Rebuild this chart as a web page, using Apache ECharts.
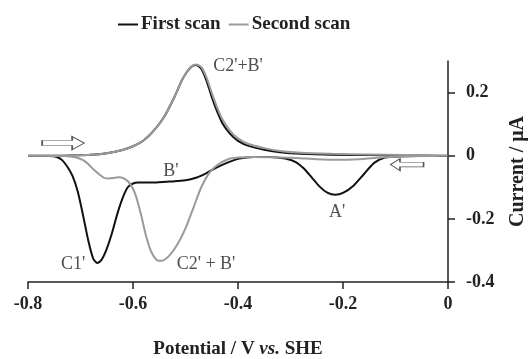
<!DOCTYPE html>
<html>
<head>
<meta charset="utf-8">
<script src="https://cdn.jsdelivr.net/npm/echarts@6/dist/echarts.min.js"></script>
<style>html,body{margin:0;background:#fff}#chart{width:532px;height:359px}</style>
</head>
<body>
<div id="chart"></div>
<script>
// anodic sweep (-0.8 -> 0 V), both scans nearly on top of each other
let anodicV = [-0.80,-0.76,-0.72,-0.68,-0.65,-0.62,-0.60,-0.58,-0.56,-0.54,-0.52,-0.505,-0.49,-0.48,-0.47,-0.46,-0.45,-0.44,-0.43,-0.415,-0.40,-0.38,-0.35,-0.32,-0.28,-0.22,-0.15,-0.08,0];
let firstAnodicI = [0,0,0.001,0.003,0.008,0.018,0.030,0.048,0.080,0.125,0.190,0.245,0.280,0.287,0.276,0.238,0.186,0.141,0.104,0.069,0.047,0.031,0.019,0.011,0.006,0.003,0.002,0.001,0];
let secondAnodicI = [0,0,0.001,0.003,0.008,0.018,0.030,0.048,0.080,0.125,0.190,0.245,0.281,0.289,0.281,0.248,0.199,0.154,0.116,0.079,0.055,0.037,0.024,0.015,0.009,0.006,0.004,0.002,0];

// cathodic sweep (0 -> -0.8 V)
let firstCathodicV = [0,-0.05,-0.09,-0.12,-0.14,-0.16,-0.18,-0.20,-0.215,-0.23,-0.245,-0.26,-0.275,-0.29,-0.31,-0.34,-0.37,-0.40,-0.42,-0.44,-0.46,-0.48,-0.50,-0.53,-0.56,-0.59,-0.60,-0.61,-0.62,-0.63,-0.64,-0.65,-0.66,-0.668,-0.676,-0.685,-0.695,-0.705,-0.715,-0.725,-0.735,-0.745,-0.76,-0.80];
let firstCathodicI = [0,-0.001,-0.002,-0.006,-0.022,-0.058,-0.095,-0.118,-0.124,-0.117,-0.097,-0.068,-0.040,-0.020,-0.009,-0.004,-0.004,-0.010,-0.022,-0.037,-0.055,-0.070,-0.078,-0.082,-0.085,-0.085,-0.088,-0.100,-0.135,-0.185,-0.245,-0.295,-0.330,-0.340,-0.325,-0.270,-0.190,-0.115,-0.065,-0.035,-0.014,-0.004,-0.001,0];
let secondCathodicV = [0,-0.05,-0.10,-0.13,-0.17,-0.21,-0.25,-0.29,-0.33,-0.37,-0.40,-0.42,-0.44,-0.455,-0.47,-0.485,-0.50,-0.515,-0.53,-0.545,-0.555,-0.565,-0.575,-0.585,-0.595,-0.605,-0.615,-0.625,-0.635,-0.645,-0.655,-0.665,-0.675,-0.685,-0.695,-0.71,-0.73,-0.80];
let secondCathodicI = [0,-0.001,-0.003,-0.006,-0.011,-0.013,-0.011,-0.007,-0.005,-0.004,-0.006,-0.012,-0.030,-0.055,-0.100,-0.165,-0.230,-0.280,-0.315,-0.333,-0.330,-0.305,-0.255,-0.185,-0.125,-0.090,-0.074,-0.068,-0.070,-0.072,-0.070,-0.058,-0.044,-0.027,-0.014,-0.005,-0.001,0];

// peak labels
let peakNames = ["C2'+B'", "B'", "C1'", "C2' + B'", "A'"];
let peakV = [-0.40, -0.528, -0.714, -0.461, -0.211];
let peakI = [0.283, -0.048, -0.345, -0.345, -0.178];

// scan direction arrows
let arrowV = [-0.733, -0.078];
let arrowI = [0.04, -0.028];

let xTicks = [-0.8, -0.6, -0.4, -0.2, 0];
let yTicks = [-0.4, -0.2, 0, 0.2];

function pairs(vs, is) {
	return vs.map((v, k) => [v, is[k]]);
}
let firstScan = pairs(anodicV, firstAnodicI).concat(pairs(firstCathodicV, firstCathodicI));
let secondScan = pairs(anodicV, secondAnodicI).concat(pairs(secondCathodicV, secondCathodicI));

let serif = "'Liberation Serif', 'Times New Roman', serif";
let arrowRight = 'path://M0,4 L30,4 L30,0 L42,6.5 L30,13 L30,9 L0,9 Z';
let arrowLeft = 'path://M42,4 L12,4 L12,0 L0,6.5 L12,13 L12,9 L42,9 Z';

let myChart = echarts.init(document.getElementById('chart'));
let opt = {
	backgroundColor: '#fff',
	animation: false,
	grid: {left: 28, right: 84, top: 61, bottom: 77, outerBoundsMode: 'none'},
	legend: {
		left: 113, top: 10,
		itemWidth: 20, itemHeight: 2, itemGap: 8,
		icon: 'rect',
		data: ['First scan', 'Second scan'],
		textStyle: {fontFamily: serif, fontWeight: 'bold', fontSize: 19, color: '#222', padding: [0, 0, 0, -2]}
	},
	xAxis: {
		type: 'value', min: -0.8, max: 0, interval: 0.2,
		name: '{b|Potential / V }{i|vs.}{b| SHE}',
		nameLocation: 'middle', nameGap: 58,
		nameTextStyle: {rich: {
			b: {fontFamily: serif, fontWeight: 'bold', fontSize: 19, color: '#222'},
			i: {fontFamily: serif, fontWeight: 'bold', fontStyle: 'italic', fontSize: 19, color: '#222'}
		}},
		axisLine: {onZero: false, lineStyle: {color: '#222', width: 1.5}},
		axisTick: {show: true, length: 7, lineStyle: {color: '#222', width: 1.5}, customValues: xTicks},
		axisLabel: {margin: 13, fontFamily: serif, fontWeight: 'bold', fontSize: 18, color: '#222', customValues: xTicks},
		splitLine: {show: false}
	},
	yAxis: {
		type: 'value', position: 'right', min: -0.4, max: 0.3, interval: 0.2,
		name: 'Current / μA', nameLocation: 'middle', nameRotate: 90, nameGap: 60,
		nameTextStyle: {fontFamily: serif, fontWeight: 'bold', fontSize: 20, color: '#222'},
		axisLine: {onZero: false, lineStyle: {color: '#222', width: 1.5}},
		axisTick: {show: true, length: 7, lineStyle: {color: '#222', width: 1.5}, customValues: yTicks},
		axisLabel: {margin: 18, fontFamily: serif, fontWeight: 'bold', fontSize: 18, color: '#222', customValues: yTicks},
		splitLine: {show: false}
	},
	series: [
		{
			name: 'First scan', type: 'line', data: firstScan,
			showSymbol: false, smooth: 0.25, z: 2,
			lineStyle: {color: '#111', width: 2}, itemStyle: {color: '#111'}
		},
		{
			name: 'Second scan', type: 'line', data: secondScan,
			showSymbol: false, smooth: 0.25, z: 3,
			lineStyle: {color: '#9a9a9a', width: 2}, itemStyle: {color: '#9a9a9a'}
		},
		{
			name: 'labels', type: 'scatter', symbolSize: 0, silent: true, z: 4,
			data: peakNames.map((n, k) => ({name: n, value: [peakV[k], peakI[k]]})),
			label: {show: true, position: 'inside', formatter: '{b}', fontFamily: serif, fontSize: 18, color: '#222'},
			markPoint: {
				silent: true,
				label: {show: false},
				itemStyle: {color: '#fff', borderColor: '#555', borderWidth: 1},
				data: [
					{coord: [arrowV[0], arrowI[0]], symbol: arrowRight, symbolSize: [42, 13], symbolOffset: [0, 0]},
					{coord: [arrowV[1], arrowI[1]], symbol: arrowLeft, symbolSize: [33, 12], symbolOffset: [0, 0]}
				]
			}
		}
	]
};
myChart.setOption(opt);
</script>
</body>
</html>
